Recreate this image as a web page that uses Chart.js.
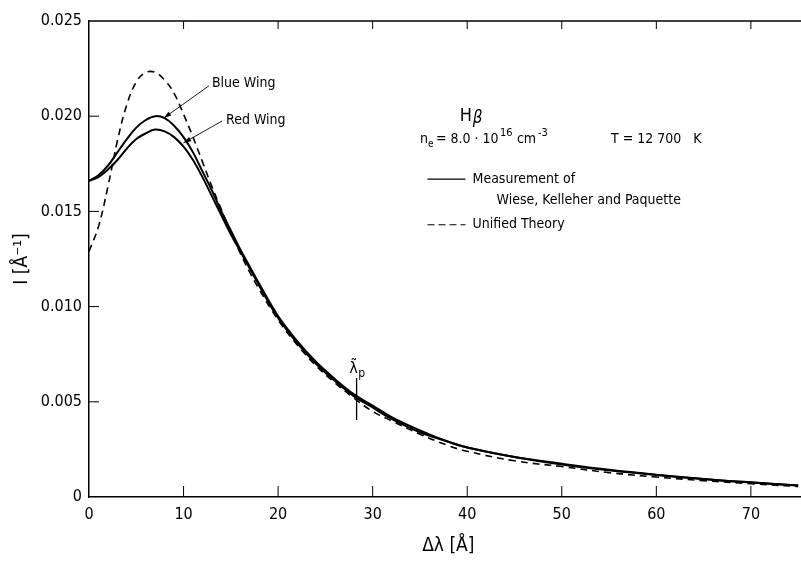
<!DOCTYPE html>
<html>
<head>
<meta charset="utf-8">
<script src="https://cdn.jsdelivr.net/npm/chart.js@4.4.1/dist/chart.umd.min.js"></script>
<style>
  html, body { margin: 0; padding: 0; background: #fff; }
  #wrap { width: 801px; height: 565px; }
</style>
</head>
<body>
<div id="wrap"><canvas id="chart" width="801" height="565"></canvas></div>
<script>
// wavelength offset from line centre, in Angstrom
const deltaLambda = [0, 1, 2, 3, 4, 5, 6, 7, 8, 9, 10, 11, 12, 13, 14, 15, 16, 17, 18,
  20, 22, 24, 26, 28, 30, 32, 35, 38, 40, 45, 50, 55, 60, 65, 70, 75];

// measured profile, blue wing
const blueWing = [0.0166, 0.0169, 0.0174, 0.0181, 0.0188, 0.0194, 0.0198, 0.0200, 0.0199, 0.0195,
  0.0189, 0.0181, 0.0171, 0.0161, 0.0150, 0.0140, 0.0130, 0.0121, 0.0112,
  0.0095, 0.0082, 0.0071, 0.0062, 0.0054, 0.0048, 0.0042, 0.0035, 0.0029, 0.0026,
  0.0021, 0.00175, 0.00143, 0.00117, 0.00095, 0.00077, 0.00061];

// measured profile, red wing
const redWing = [0.0166, 0.0168, 0.0172, 0.0177, 0.0183, 0.0188, 0.0191, 0.0193, 0.0192, 0.0189,
  0.0184, 0.0177, 0.0168, 0.0158, 0.0148, 0.0138, 0.0129, 0.0120, 0.0111,
  0.0094, 0.0081, 0.0070, 0.0061, 0.0053, 0.0047, 0.0041, 0.0034, 0.0029, 0.0026,
  0.0021, 0.0017, 0.0014, 0.00115, 0.00094, 0.00076, 0.0006];

// unified theory
const unifiedTheory = [0.0129, 0.0142, 0.0163, 0.0187, 0.0206, 0.0218, 0.0223, 0.0223, 0.0219, 0.0212,
  0.0201, 0.0189, 0.0176, 0.0163, 0.0151, 0.0139, 0.0128, 0.0118, 0.0109,
  0.0093, 0.0080, 0.0069, 0.0060, 0.0052, 0.0045, 0.0040, 0.0033, 0.0027, 0.0024,
  0.0019, 0.0016, 0.00128, 0.00105, 0.00086, 0.0007, 0.00055];

const yTicks = [0, 0.005, 0.010, 0.015, 0.020, 0.025];
const xTicks = [0, 10, 20, 30, 40, 50, 60, 70];
const lambdaP = 28.3;

const FONT = "'DejaVu Sans Condensed', 'DejaVu Sans', sans-serif";

const toPoints = (ys) => deltaLambda.map((x, i) => ({ x: x, y: ys[i] }));

// draws inward ticks, top frame, axis titles and the text annotations
const decorations = {
  id: 'decorations',
  afterDatasetsDraw(chart) {
    const { ctx, chartArea, scales } = chart;
    const xs = scales.x, ys = scales.y;
    ctx.save();
    ctx.strokeStyle = '#000';
    ctx.fillStyle = '#000';

    // top frame line
    ctx.lineWidth = 1.5;
    ctx.beginPath();
    ctx.moveTo(chartArea.left, chartArea.top);
    ctx.lineTo(chartArea.right, chartArea.top);
    ctx.stroke();

    ctx.lineWidth = 1;
    xTicks.slice(1).forEach(v => {
      const px = xs.getPixelForValue(v);
      ctx.beginPath();
      ctx.moveTo(px, chartArea.bottom);
      ctx.lineTo(px, chartArea.bottom - 11);
      ctx.moveTo(px, chartArea.top);
      ctx.lineTo(px, chartArea.top + 8);
      ctx.stroke();
    });
    yTicks.slice(1, -1).forEach(v => {
      const py = ys.getPixelForValue(v);
      ctx.beginPath();
      ctx.moveTo(chartArea.left, py);
      ctx.lineTo(chartArea.left + 10, py);
      ctx.stroke();
    });

    // lambda_p marker
    const lpx = xs.getPixelForValue(lambdaP);
    const lpy = ys.getPixelForValue(0.0052);
    ctx.lineWidth = 1.3;
    ctx.beginPath();
    ctx.moveTo(lpx, lpy - 20);
    ctx.lineTo(lpx, lpy + 22);
    ctx.stroke();
    ctx.font = '16px ' + FONT;
    ctx.textAlign = 'center';
    ctx.textBaseline = 'alphabetic';
    ctx.fillText('λ̃', lpx - 3, lpy - 25);
    ctx.font = '12px ' + FONT;
    ctx.fillText('p', lpx + 5, lpy - 21);

    // axis titles
    ctx.font = '19px ' + FONT;
    ctx.textAlign = 'center';
    ctx.textBaseline = 'middle';
    ctx.fillText('Δλ [Å]', xs.getPixelForValue(38), 546);
    ctx.save();
    ctx.translate(22, ys.getPixelForValue(0.0125));
    ctx.rotate(-Math.PI / 2);
    ctx.fillText('I [Å⁻¹]', 0, 0);
    ctx.restore();

    // wing labels with arrows
    ctx.font = '14px ' + FONT;
    ctx.textAlign = 'left';
    ctx.textBaseline = 'middle';
    const bx = xs.getPixelForValue(13.0), by = ys.getPixelForValue(0.0217);
    ctx.fillText('Blue Wing', bx, by);
    const rx = xs.getPixelForValue(14.5), ry = ys.getPixelForValue(0.0198);
    ctx.fillText('Red Wing', rx, ry);
    const arrow = (x1, y1, x2, y2) => {
      ctx.lineWidth = 0.9;
      ctx.beginPath();
      ctx.moveTo(x1, y1);
      ctx.lineTo(x2, y2);
      ctx.stroke();
      const a = Math.atan2(y2 - y1, x2 - x1);
      ctx.beginPath();
      ctx.moveTo(x2, y2);
      ctx.lineTo(x2 - 8 * Math.cos(a - 0.3), y2 - 8 * Math.sin(a - 0.3));
      ctx.lineTo(x2 - 8 * Math.cos(a + 0.3), y2 - 8 * Math.sin(a + 0.3));
      ctx.closePath();
      ctx.fill();
    };
    arrow(bx - 3, by + 2, xs.getPixelForValue(7.9), ys.getPixelForValue(0.0199));
    arrow(rx - 4, ry + 1, xs.getPixelForValue(10.0), ys.getPixelForValue(0.0186));

    // parameters
    const tx = xs.getPixelForValue(35);
    ctx.font = '18px ' + FONT;
    ctx.fillText('H', xs.getPixelForValue(39.2), ys.getPixelForValue(0.0200));
    ctx.font = 'italic 17px ' + FONT;
    ctx.fillText('β', xs.getPixelForValue(39.2) + 13, ys.getPixelForValue(0.0200) + 2);
    ctx.font = '14px ' + FONT;
    const ny = ys.getPixelForValue(0.0188);
    ctx.fillText('n', tx, ny);
    ctx.font = '10px ' + FONT;
    ctx.fillText('e', tx + 8, ny + 5);
    ctx.font = '14px ' + FONT;
    ctx.fillText('= 8.0 · 10', tx + 16, ny);
    ctx.font = '11px ' + FONT;
    ctx.fillText('16', tx + 80, ny - 6);
    ctx.font = '14px ' + FONT;
    ctx.fillText('cm', tx + 97, ny);
    ctx.font = '11px ' + FONT;
    ctx.fillText('-3', tx + 118, ny - 6);
    ctx.font = '14px ' + FONT;
    ctx.fillText('T = 12 700   K', xs.getPixelForValue(55.2), ny);

    // legend
    const lx = xs.getPixelForValue(35.8);
    const ly1 = ys.getPixelForValue(0.0167);
    const ly2 = ys.getPixelForValue(0.0143);
    ctx.lineWidth = 1.2;
    ctx.beginPath();
    ctx.moveTo(lx, ly1);
    ctx.lineTo(lx + 38, ly1);
    ctx.stroke();
    ctx.setLineDash([7, 4]);
    ctx.beginPath();
    ctx.moveTo(lx, ly2);
    ctx.lineTo(lx + 38, ly2);
    ctx.stroke();
    ctx.setLineDash([]);
    ctx.fillText('Measurement of', lx + 45, ly1);
    ctx.fillText('Wiese, Kelleher and Paquette', lx + 69, ys.getPixelForValue(0.0156));
    ctx.fillText('Unified Theory', lx + 45, ly2);
    ctx.restore();
  }
};

const ctx = document.getElementById('chart').getContext('2d');
new Chart(ctx, {
  type: 'line',
  data: {
    datasets: [
      {
        label: 'Blue Wing',
        data: toPoints(blueWing),
        borderColor: '#000',
        borderWidth: 2,
        pointRadius: 0,
        tension: 0.4,
        fill: false
      },
      {
        label: 'Red Wing',
        data: toPoints(redWing),
        borderColor: '#000',
        borderWidth: 2,
        pointRadius: 0,
        tension: 0.4,
        fill: false
      },
      {
        label: 'Unified Theory',
        data: toPoints(unifiedTheory),
        borderColor: '#000',
        borderWidth: 1.6,
        borderDash: [7, 5],
        pointRadius: 0,
        tension: 0.4,
        fill: false
      }
    ]
  },
  options: {
    responsive: false,
    animation: false,
    layout: { padding: { top: 21, right: 0, left: 0, bottom: 0 } },
    plugins: {
      legend: { display: false },
      tooltip: { enabled: false }
    },
    scales: {
      x: {
        type: 'linear',
        min: 0,
        max: 75.3,
        afterFit: (scale) => { scale.height = 68; },
        afterBuildTicks: (scale) => { scale.ticks = xTicks.map(v => ({ value: v })); },
        grid: { display: false, drawTicks: false },
        border: { display: true, color: '#000', width: 1.5 },
        ticks: {
          padding: 8,
          color: '#000',
          font: { family: FONT, size: 16 },
          callback: (v) => String(v)
        }
      },
      y: {
        type: 'linear',
        min: 0,
        max: 0.025,
        afterFit: (scale) => { scale.width = 89; },
        afterBuildTicks: (scale) => { scale.ticks = yTicks.map(v => ({ value: v })); },
        grid: { display: false, drawTicks: false },
        border: { display: true, color: '#000', width: 1.5 },
        ticks: {
          padding: 7,
          color: '#000',
          font: { family: FONT, size: 16 },
          callback: (v) => v === 0 ? '0' : v.toFixed(3)
        }
      }
    }
  },
  plugins: [decorations]
});
</script>
</body>
</html>
